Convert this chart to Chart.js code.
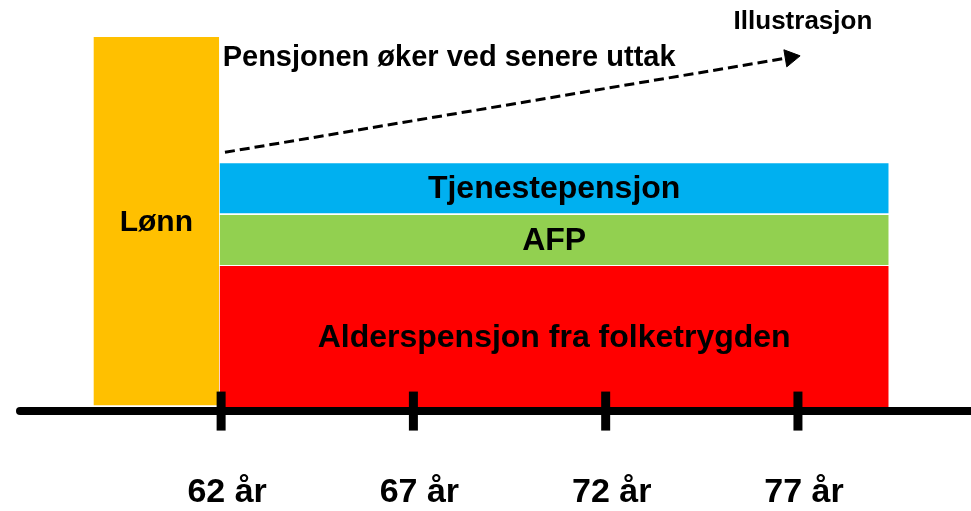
<!DOCTYPE html>
<html>
<head>
<meta charset="utf-8">
<script src="https://cdn.jsdelivr.net/npm/chart.js@4/dist/chart.umd.min.js"></script>
<style>
  html, body { margin: 0; padding: 0; background: #ffffff; }
  #wrap { width: 971px; height: 511px; }
</style>
</head>
<body>
<div id="wrap"><canvas id="c" width="971" height="511"></canvas></div>
<script>
// ---------- data ----------
const ageTicks = [62, 67, 72, 77];
const tickLabels = ['62 år', '67 år', '72 år', '77 år'];

const layerNames = ['Alderspensjon fra folketrygden', 'AFP', 'Tjenestepensjon'];
const layerBottom = [0, 38.4, 52.35];
const layerTop = [38.1, 51.9, 65.85];
const pensionStartAge = 61.96;
const pensionEndAge = 79.36;

const salaryLabel = 'Lønn';
const salaryStartAge = 58.68;
const salaryEndAge = 61.95;
const salaryBottom = 0.5;
const salaryLevel = 100;

const trendText = 'Pensjonen øker ved senere uttak';
const trendStart = [62.1, 68.84];
const trendEnd = [76.8, 94.46];

const noteText = 'Illustrasjon';

const axisStartAge = 56.77;
const axisEndAge = 81.5;
const axisLevel = -1.1;

// ---------- styles ----------
const layerColors = ['#FF0000', '#92D050', '#00B0F0'];
const salaryColor = '#FFC000';
const FONT = '"Liberation Sans", Arial, Helvetica, sans-serif';

// ---------- datasets ----------
const datasets = [];

// axis ticks (drawn on top: first dataset is drawn last)
datasets.push({
  label: 'ticks',
  data: ageTicks.map(a => ({x: a, y: axisLevel})),
  showLine: false,
  pointStyle: 'line',
  pointRadius: 19.5,
  pointRotation: 90,
  pointBorderWidth: 9,
  pointBorderColor: '#000000',
  clip: false
});

// axis line with arrow head
datasets.push({
  label: 'axis',
  data: [{x: axisStartAge, y: axisLevel}, {x: axisEndAge, y: axisLevel}, {x: axisEndAge + 0.12, y: axisLevel}],
  borderColor: '#000000',
  borderWidth: 8,
  borderCapStyle: 'round',
  pointRadius: [0, 0, 10],
  pointStyle: 'triangle',
  pointRotation: 90,
  pointBackgroundColor: '#000000',
  pointBorderColor: '#000000',
  pointBorderWidth: 1,
  fill: false,
  clip: false
});

// trend arrow (dashed)
datasets.push({
  label: 'trend',
  data: [{x: trendStart[0], y: trendStart[1]}, {x: trendEnd[0], y: trendEnd[1]}],
  borderColor: '#000000',
  borderWidth: 3,
  borderDash: [10, 5],
  pointRadius: [0, 10],
  pointStyle: 'triangle',
  pointRotation: 80.5,
  pointBackgroundColor: '#000000',
  pointBorderColor: '#000000',
  pointBorderWidth: 1,
  fill: false,
  clip: false
});

// pension layers
layerNames.forEach((name, i) => {
  datasets.push({
    label: name,
    data: [{x: pensionStartAge, y: layerTop[i]}, {x: pensionEndAge, y: layerTop[i]}],
    borderWidth: 0,
    borderColor: 'rgba(0,0,0,0)',
    backgroundColor: layerColors[i],
    pointRadius: 0,
    fill: {value: layerBottom[i]},
    clip: false
  });
});

// salary
datasets.push({
  label: salaryLabel,
  data: [{x: salaryStartAge, y: salaryLevel}, {x: salaryEndAge, y: salaryLevel}],
  borderWidth: 0,
  borderColor: 'rgba(0,0,0,0)',
  backgroundColor: salaryColor,
  pointRadius: 0,
  fill: {value: salaryBottom},
  clip: false
});

// ---------- text plugin ----------
const textPlugin = {
  id: 'texts',
  afterDatasetsDraw(chart) {
    const {ctx, scales: {x, y}} = chart;
    ctx.save();
    ctx.fillStyle = '#000000';
    ctx.textBaseline = 'middle';

    ctx.textAlign = 'center';
    ctx.font = 'bold 30px ' + FONT;
    ctx.fillText(salaryLabel,
      x.getPixelForValue((salaryStartAge + salaryEndAge) / 2),
      y.getPixelForValue((salaryBottom + salaryLevel) / 2) + 1.5);

    ctx.font = 'bold 32px ' + FONT;
    layerNames.forEach((name, i) => {
      ctx.fillText(name,
        x.getPixelForValue((pensionStartAge + pensionEndAge) / 2),
        y.getPixelForValue((layerBottom[i] + layerTop[i]) / 2) + 1.2);
    });

    ctx.textAlign = 'left';
    ctx.font = 'bold 29px ' + FONT;
    ctx.fillText(trendText, x.getPixelForValue(62.04), y.getPixelForValue(94.3));

    ctx.textAlign = 'center';
    ctx.font = 'bold 26px ' + FONT;
    ctx.fillText(noteText, x.getPixelForValue(77.13), y.getPixelForValue(104.2));
    ctx.restore();
  }
};

new Chart(document.getElementById('c'), {
  type: 'line',
  data: {datasets},
  options: {
    responsive: false,
    animation: false,
    events: [],
    layout: {padding: {left: 0, right: 0, top: 0, bottom: -2}, autoPadding: false},
    plugins: {legend: {display: false}, tooltip: {enabled: false}},
    elements: {line: {tension: 0}},
    scales: {
      x: {
        type: 'linear',
        min: 56.25,
        max: 81.5,
        afterBuildTicks(scale) { scale.ticks = ageTicks.map(v => ({value: v})); },
        grid: {display: false, drawTicks: false},
        border: {display: false},
        ticks: {
          autoSkip: false,
          maxRotation: 0,
          padding: 0,
          labelOffset: 6,
          color: '#000000',
          font: {family: FONT, size: 34, weight: 'bold'},
          callback(value) {
            const i = ageTicks.indexOf(value);
            return i >= 0 ? tickLabels[i] : '';
          }
        }
      },
      y: {
        type: 'linear',
        display: false,
        min: -17.62,
        max: 110
      }
    }
  },
  plugins: [textPlugin]
});
</script>
</body>
</html>
